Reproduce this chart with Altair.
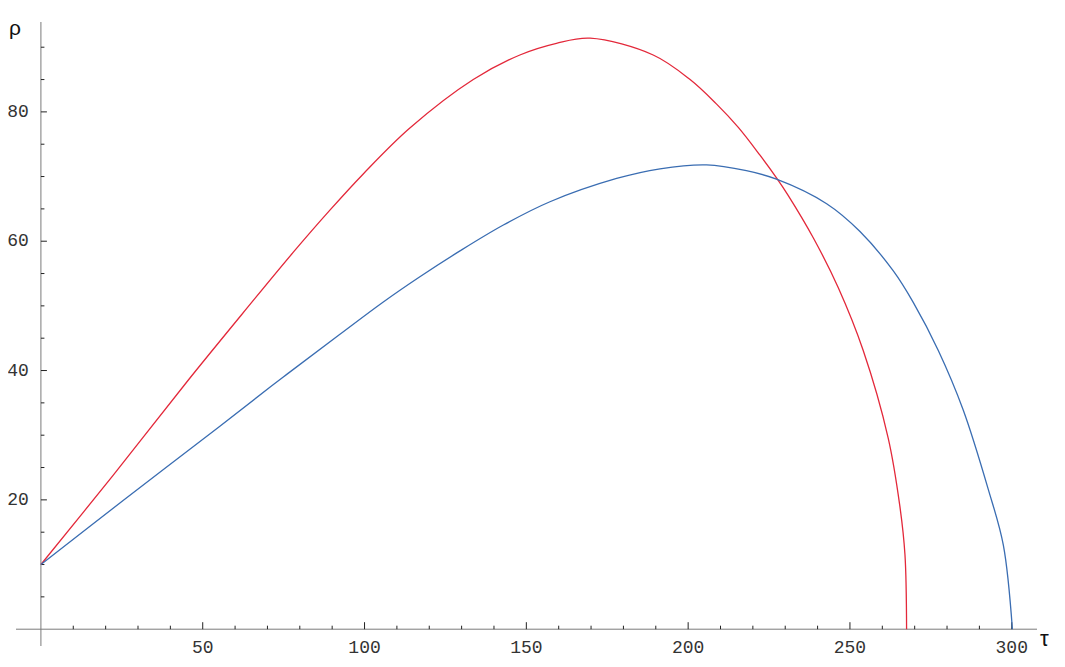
import altair as alt
import pandas as pd

# ---- data ----
red_tau = [0, 22.3, 45.5, 63.6, 78, 89.3, 99.6, 114, 133.6, 148, 159.3, 169.7, 189.2, 200.6,
           208.8, 215.5, 222.2, 227.3, 230.9, 238.7, 246.4, 254.1, 261.8, 265.4, 267, 267.5]
red_rho = [10, 23.8, 38.5, 49.6, 58.3, 64.8, 70.4, 77.5, 85, 88.8, 90.6, 91.4, 88.8, 85,
           81.2, 77.6, 73.3, 69.8, 67.1, 60.5, 52.8, 43.1, 29.6, 19.1, 11.5, 0]

blue_tau = [0, 25.4, 55.3, 74.9, 92.4, 105.8, 117.1, 129.5, 142.9, 157.3, 177.9, 191.3,
            205.7, 218, 227.3, 242.8, 253.1, 263.4, 269.6, 277.3, 285, 292.7, 297.4, 300.2]
blue_rho = [10, 19.9, 31.4, 39, 45.6, 50.6, 54.5, 58.5, 62.5, 66.1, 69.7, 71.2,
            71.8, 70.9, 69.6, 65.8, 61.5, 55.4, 50.5, 43.1, 33.9, 21.7, 13, 0]

x_major = [50, 100, 150, 200, 250, 300]
x_minor = [10, 20, 30, 40, 60, 70, 80, 90, 110, 120, 130, 140, 160, 170, 180, 190,
           210, 220, 230, 240, 260, 270, 280, 290]
y_major = [20, 40, 60, 80]
y_minor = [5, 10, 15, 25, 30, 35, 45, 50, 55, 65, 70, 75, 85, 90]

x_range = [-7.7, 307.8]
y_range = [-2.6, 93.9]

series_names = ["red", "blue"]
series_colors = ["#e3283a", "#3a6db2"]

# ---- tables ----
curves = pd.concat([
    pd.DataFrame({"tau": red_tau, "rho": red_rho, "s": "red", "i": range(len(red_tau))}),
    pd.DataFrame({"tau": blue_tau, "rho": blue_rho, "s": "blue", "i": range(len(blue_tau))}),
])

xs = alt.Scale(domain=x_range, nice=False, zero=False)
ys = alt.Scale(domain=y_range, nice=False, zero=False)

lines = alt.Chart(curves).mark_line(strokeWidth=1.3, interpolate="catmull-rom").encode(
    x=alt.X("tau:Q", scale=xs, axis=None),
    y=alt.Y("rho:Q", scale=ys, axis=None),
    color=alt.Color("s:N", scale=alt.Scale(domain=series_names, range=series_colors), legend=None),
    order=alt.Order("i:Q"),
    detail="s:N",
)

axis_color = "#7a7a7a"
tick_color = "#222222"

xaxis_df = pd.DataFrame({"a": [x_range[0]], "b": [x_range[1]], "z": [0]})
x_axis = alt.Chart(xaxis_df).mark_rule(color=axis_color, strokeWidth=1).encode(
    x=alt.X("a:Q", scale=xs, axis=None), x2="b:Q", y=alt.Y("z:Q", scale=ys, axis=None)
)
yaxis_df = pd.DataFrame({"a": [y_range[0]], "b": [y_range[1]], "z": [0]})
y_axis = alt.Chart(yaxis_df).mark_rule(color=axis_color, strokeWidth=1).encode(
    y=alt.Y("a:Q", scale=ys, axis=None), y2="b:Q", x=alt.X("z:Q", scale=xs, axis=None)
)

xmaj_df = pd.DataFrame({"v": x_major, "z": 0, "t": [str(v) for v in x_major]})
xmin_df = pd.DataFrame({"v": x_minor, "z": 0})
ymaj_df = pd.DataFrame({"v": y_major, "z": 0, "t": [str(v) for v in y_major]})
ymin_df = pd.DataFrame({"v": y_minor, "z": 0})

x_maj_ticks = alt.Chart(xmaj_df).mark_rule(color=tick_color, y2Offset=-7).encode(
    x=alt.X("v:Q", scale=xs, axis=None), y=alt.Y("z:Q", scale=ys, axis=None), y2="z:Q"
)
x_min_ticks = alt.Chart(xmin_df).mark_rule(color=tick_color, y2Offset=-3.5).encode(
    x=alt.X("v:Q", scale=xs, axis=None), y=alt.Y("z:Q", scale=ys, axis=None), y2="z:Q"
)
y_maj_ticks = alt.Chart(ymaj_df).mark_rule(color=tick_color, x2Offset=6).encode(
    y=alt.Y("v:Q", scale=ys, axis=None), x=alt.X("z:Q", scale=xs, axis=None), x2="z:Q"
)
y_min_ticks = alt.Chart(ymin_df).mark_rule(color=tick_color, x2Offset=3.5).encode(
    y=alt.Y("v:Q", scale=ys, axis=None), x=alt.X("z:Q", scale=xs, axis=None), x2="z:Q"
)

label_font = "Liberation Mono"
x_labels = alt.Chart(xmaj_df).mark_text(
    font=label_font, fontSize=18, color="#333333", align="center", baseline="middle", dy=19
).encode(x=alt.X("v:Q", scale=xs, axis=None), y=alt.Y("z:Q", scale=ys, axis=None), text="t:N")
y_labels = alt.Chart(ymaj_df).mark_text(
    font=label_font, fontSize=18, color="#333333", align="right", baseline="middle", dx=-12
).encode(y=alt.Y("v:Q", scale=ys, axis=None), x=alt.X("z:Q", scale=xs, axis=None), text="t:N")

title_df = pd.DataFrame({"x": [x_range[1], 0], "y": [0, y_range[1]], "t": ["τ", "ρ"]})
tau_label = alt.Chart(title_df.iloc[[0]]).mark_text(
    font="Liberation Sans", fontSize=22, color="#111111", align="left", baseline="middle", dx=3, dy=10
).encode(x=alt.X("x:Q", scale=xs, axis=None), y=alt.Y("y:Q", scale=ys, axis=None), text="t:N")
rho_label = alt.Chart(title_df.iloc[[1]]).mark_text(
    font="Liberation Sans", fontSize=21, color="#111111", align="center", baseline="alphabetic", dx=-26, dy=13
).encode(x=alt.X("x:Q", scale=xs, axis=None), y=alt.Y("y:Q", scale=ys, axis=None), text="t:N")

chart = alt.layer(
    x_axis, y_axis, x_min_ticks, x_maj_ticks, y_min_ticks, y_maj_ticks,
    x_labels, y_labels, tau_label, rho_label, lines
).properties(
    width=1021,
    height=624,
    autosize=alt.AutoSizeParams(type="none"),
    padding={"left": 8, "top": 14, "right": 20, "bottom": 13},
).configure_view(stroke=None)

chart.save("out.html", embed_options={"renderer": "svg", "actions": False})
